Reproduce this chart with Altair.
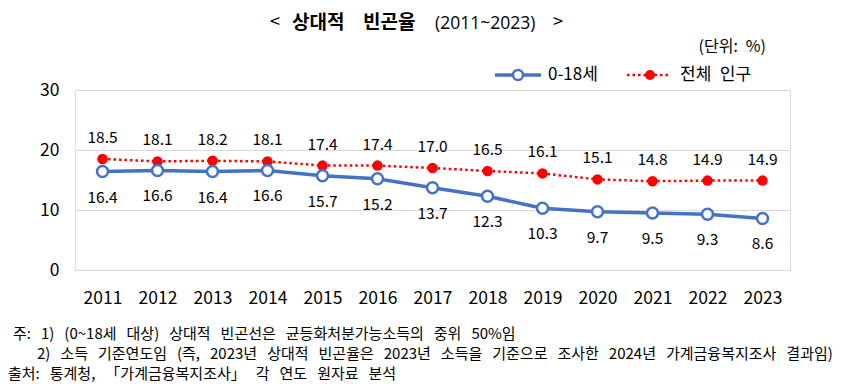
import altair as alt
import pandas as pd

years = [str(y) for y in range(2011, 2024)]
child = [16.4, 16.6, 16.4, 16.6, 15.7, 15.2, 13.7, 12.3, 10.3, 9.7, 9.5, 9.3, 8.6]
total = [18.5, 18.1, 18.2, 18.1, 17.4, 17.4, 17.0, 16.5, 16.1, 15.1, 14.8, 14.9, 14.9]
y_ticks = [0, 10, 20, 30]

title_parts = ["<", "상대적", "빈곤율", "(2011~2023)", ">"]
unit_text = "(단위: %)"
legend_names = ["0-18세", "전체 인구"]
notes = [
    "주: 1) (0~18세 대상) 상대적 빈곤선은 균등화처분가능소득의 중위 50%임",
    "2) 소득 기준연도임 (즉, 2023년 상대적 빈곤율은 2023년 소득을 기준으로 조사한 2024년 가계금융복지조사 결과임)",
    "출처: 통계청, 「가계금융복지조사」 각 연도 원자료 분석",
]

BLUE = "#4472C4"
RED = "#FF0000"
FONT = "Noto Sans CJK KR"
NUMFONT = "Open Sans"


def wide(s, sp="\u2002"):
    # wider spaces, to mimic the wide word spacing of the original
    return s.replace(" ", sp)


df_child = pd.DataFrame({"year": years, "v": child, "lab": [f"{v:.1f}" for v in child]})
df_total = pd.DataFrame({"year": years, "v": total, "lab": [f"{v:.1f}" for v in total]})

x = alt.X("year:O", title=None,
          scale=alt.Scale(type="point", padding=0.5),
          axis=alt.Axis(labelAngle=0, ticks=False, domain=False, labelPadding=19,
                        labelFontSize=17.5, labelColor="#000", labelFont=FONT, grid=False))
y = alt.Y("v:Q", title=None,
          scale=alt.Scale(domain=[0, 30], nice=False),
          axis=alt.Axis(values=y_ticks, ticks=False, domain=False, labelPadding=16,
                        labelFontSize=17.5, labelColor="#000", labelFont=FONT,
                        gridColor="#d9d9d9", gridWidth=1))

line_child = alt.Chart(df_child).mark_line(color=BLUE, strokeWidth=3.5).encode(x=x, y=y)
pt_child = alt.Chart(df_child).mark_point(shape="circle", filled=True, fill="white",
                                          stroke=BLUE, strokeWidth=2.5, size=120, opacity=1).encode(x=x, y=y)
lab_child = alt.Chart(df_child).mark_text(dy=26, fontSize=15.5, font=FONT, color="#000").encode(
    x=x, y=y, text="lab:N")

line_total = alt.Chart(df_total).mark_line(color=RED, strokeWidth=2.5, strokeDash=[2.5, 3]).encode(x=x, y=y)
pt_total = alt.Chart(df_total).mark_point(shape="circle", filled=True, color=RED, size=110, opacity=1).encode(x=x, y=y)
lab_total = alt.Chart(df_total).mark_text(dy=-21, fontSize=15.5, font=FONT, color="#000").encode(
    x=x, y=y, text="lab:N")


def txt(t, px, py, size=14, weight="normal", align="left", color="#000", font=FONT):
    return alt.Chart(pd.DataFrame({"t": [t]})).mark_text(
        fontSize=size, fontWeight=weight, align=align, baseline="middle", font=font, color=color
    ).encode(x=alt.value(px), y=alt.value(py), text="t:N")


def one():
    return alt.Chart(pd.DataFrame({"a": [0]}))


# title
t1 = txt(title_parts[0], 195, -67, size=18)
t2 = txt(title_parts[1], 217, -67, size=19, weight="bold")
t3 = txt(title_parts[2], 288, -67, size=19, weight="bold")
t4 = txt(title_parts[3], 360, -66, size=17.5, font=NUMFONT)
t5 = txt(title_parts[4], 478, -67, size=18)
unit = txt(wide(unit_text), 691, -43, size=16, align="right")

# legend
lg_line1 = one().mark_rule(color=BLUE, strokeWidth=3.5).encode(
    x=alt.value(420), x2=alt.value(466), y=alt.value(-15))
lg_pt1 = one().mark_point(shape="circle", filled=True, fill="white", stroke=BLUE,
                          strokeWidth=2.5, size=100, opacity=1).encode(x=alt.value(443), y=alt.value(-15))
lg_txt1 = txt(legend_names[0], 473, -15, size=17)
lg_line2 = one().mark_rule(color=RED, strokeWidth=2.5, strokeDash=[2.5, 3]).encode(
    x=alt.value(552), x2=alt.value(594), y=alt.value(-15))
lg_pt2 = one().mark_point(shape="circle", filled=True, color=RED, size=100, opacity=1).encode(
    x=alt.value(575), y=alt.value(-15))
lg_txt2 = txt(wide(legend_names[1]), 605, -15, size=17)

# notes
NSP = "\u2002\u2006"
n1 = txt(wide(notes[0], NSP), -62, 244, size=15)
n2 = txt(wide(notes[1], NSP), -38, 264, size=15)
n3 = txt(wide(notes[2], NSP), -67, 284, size=15)

chart = alt.layer(
    line_total, line_child, pt_total, pt_child, lab_total, lab_child,
    t1, t2, t3, t4, t5, unit,
    lg_line1, lg_pt1, lg_txt1, lg_line2, lg_pt2, lg_txt2,
    n1, n2, n3,
).properties(
    width=715, height=180,
    autosize=alt.AutoSizeParams(type="none"),
    padding={"left": 67, "top": 82, "right": 58, "bottom": 114},
).configure_view(stroke=None).configure(background="white")

chart.save("out.html", embed_options={"renderer": "svg", "actions": False})
